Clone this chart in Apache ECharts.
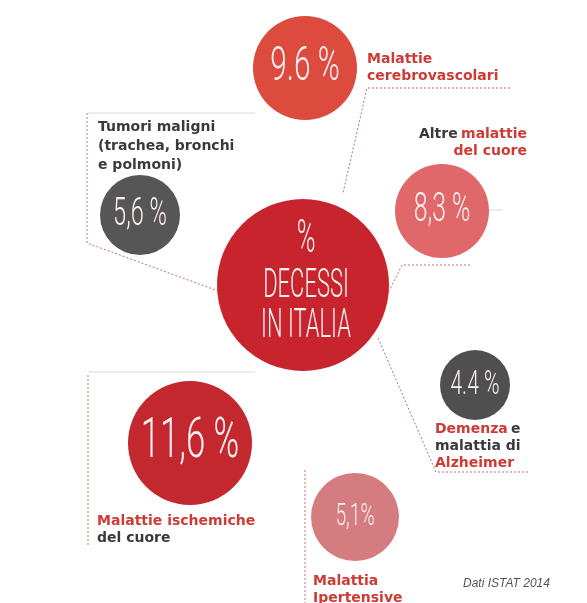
<!DOCTYPE html>
<html><head><meta charset="utf-8">
<script src="https://cdn.jsdelivr.net/npm/echarts@6/dist/echarts.min.js"></script>
<style>html,body{margin:0;padding:0;background:#fff}#c{width:587px;height:603px}</style>
</head><body><div id="c"></div>
<script>
// ---- data ----
const categories = ['Malattie cerebrovascolari','Tumori maligni (trachea, bronchi e polmoni)','Altre malattie del cuore','Demenza e malattia di Alzheimer','Malattie ischemiche del cuore','Malattie ipertensive'];
const values = [9.6, 5.6, 8.3, 4.4, 11.6, 5.1];
const valueLabels = ['9.6 %', '5,6 %', '8,3 %', '4.4 %', '11,6 %', '5,1%'];
const centerTitle = ['%', 'DECESSI', 'IN ITALIA'];
const sourceNote = 'Dati ISTAT 2014';

// ---- layout (infographic placement, pixel space of a 587x603 canvas) ----
const layoutPos = [[305,68],[140,215],[442,211],[475,385],[190,443],[355,517]];
const layoutDiam = [104, 80, 94, 70, 124, 88];
const layoutColor = ['#dd4a3e','#565656','#e0676a','#4f4f4f','#c2282e','#d57c80'];
const layoutFont = [48, 38, 40, 34, 56, 31];
const centerPos = [303, 285], centerDiam = 172, centerColor = '#c8242e';

const RED = '#cd3b34', DARK = '#3a3a3a';
const FONT = '"DejaVu Sans"';
const rich = {
  r: {fill: RED, fontFamily: FONT, fontWeight: 'bold', fontSize: 14, lineHeight: 17},
  d: {fill: DARK, fontFamily: FONT, fontWeight: 'bold', fontSize: 14, lineHeight: 17}
};
const labelTexts = [
  {x: 367, y: 51, align: 'left', text: '{r|Malattie}\n{r|cerebrovascolari}'},
  {x: 98, y: 118, align: 'left', text: '{d|Tumori maligni}\n{d|(trachea, bronchi}\n{d|e polmoni)}', lh: 19},
  {x: 527, y: 126, align: 'right', text: '{d|Altre} {r|malattie}\n{r|del cuore}'},
  {x: 435, y: 421, align: 'left', text: '{r|Demenza} {d|e}\n{d|malattia di}\n{r|Alzheimer}'},
  {x: 97, y: 513, align: 'left', text: '{r|Malattie ischemiche}\n{d|del cuore}'},
  {x: 313, y: 573, align: 'left', text: '{r|Malattia}\n{r|Ipertensive}'}
];

const dashed = [
  [[510,88],[367,88],[343,193]],
  [[87,113],[87,243],[221,292]],
  [[470,265],[402,265],[388,293]],
  [[378,338],[436,472],[528,472]],
  [[88,375],[88,545]],
  [[305,470],[305,603]]
];
const faint = [
  [[87,113],[255,113]],
  [[88,372],[255,372]],
  [[489,210],[502,210]]
];

const chart = echarts.init(document.getElementById('c'), null, {renderer: 'canvas'});
const opt = {
  backgroundColor: '#ffffff',
  animation: false,
  grid: {left: 0, right: 0, top: 0, bottom: 0},
  xAxis: {type: 'value', min: 0, max: 587, show: false},
  yAxis: {type: 'value', min: 0, max: 603, inverse: true, show: false},
  series: [
    {type: 'lines', coordinateSystem: 'cartesian2d', polyline: true, silent: true,
     lineStyle: {color: '#b8625e', width: 1, type: [2, 2], opacity: 0.9},
     data: dashed.map(c => ({coords: c})), z: 1},
    {type: 'lines', coordinateSystem: 'cartesian2d', polyline: true, silent: true,
     lineStyle: {color: '#cfcfcf', width: 1, opacity: 0.8},
     data: faint.map(c => ({coords: c})), z: 1},
    {type: 'scatter', z: 3, silent: true,
     data: categories.map((c, i) => ({name: c, value: [layoutPos[i][0], layoutPos[i][1], values[i]],
       symbolSize: layoutDiam[i], itemStyle: {color: layoutColor[i], opacity: 1}}))},
    {type: 'scatter', z: 3, silent: true,
     data: [{name: centerTitle.join(' '), value: centerPos, symbolSize: centerDiam, itemStyle: {color: centerColor, opacity: 1}}]}
  ]
};
chart.setOption(opt);

const graphic = [];
// numbers inside circles, positioned through the chart's scales
values.forEach((v, i) => {
  const p = chart.convertToPixel({seriesIndex: 2}, layoutPos[i]);
  graphic.push({type: 'text', x: p[0], y: p[1], scaleX: 0.62, z: 10,
    style: {text: valueLabels[i], fill: '#fdf1f1', font: '300 ' + layoutFont[i] + 'px Roboto, "Liberation Sans", sans-serif',
      textAlign: 'center', textVerticalAlign: 'middle'}});
});
// center title
const cp = chart.convertToPixel({seriesIndex: 3}, centerPos);
[[0,-45,46],[1,2,40],[2,42,40]].forEach(([k, dy, fs]) => {
  graphic.push({type: 'text', x: cp[0] + 3, y: cp[1] + dy, scaleX: 0.55, z: 10,
    style: {text: centerTitle[k], fill: '#fdf0f0', font: '300 ' + fs + 'px Roboto, "Liberation Sans", sans-serif',
      textAlign: 'center', textVerticalAlign: 'middle'}});
});
// category texts
labelTexts.forEach((t, i) => {
  const rr = JSON.parse(JSON.stringify(rich));
  if (t.lh) { rr.r.lineHeight = t.lh; rr.d.lineHeight = t.lh; }
  graphic.push({type: 'text', x: t.x, y: t.y, z: 10,
    style: {text: t.text, rich: rr, textAlign: t.align, textVerticalAlign: 'top'}});
});
graphic.push({type: 'text', x: 463, y: 584, z: 10,
  style: {text: sourceNote, fill: '#555', font: 'italic 12px "Liberation Sans", sans-serif', textVerticalAlign: 'middle'}});
chart.setOption({graphic: graphic});
</script></body></html>
